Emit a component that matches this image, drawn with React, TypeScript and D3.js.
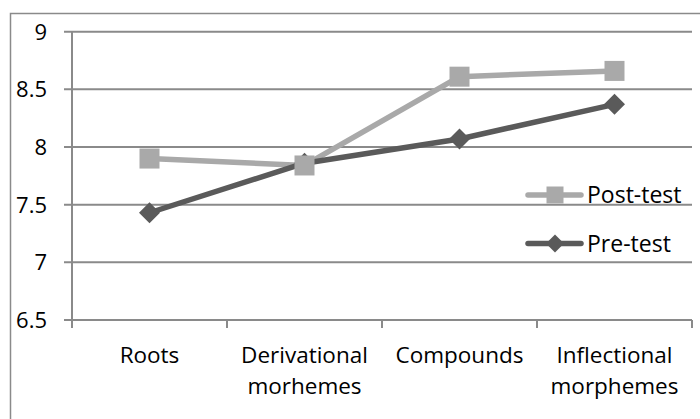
import React from "react";
import * as d3 from "d3";

const categories = ["Roots", "Derivational\nmorhemes", "Compounds", "Inflectional\nmorphemes"];
const postTest = [7.9, 7.84, 8.61, 8.66];
const preTest = [7.43, 7.86, 8.07, 8.37];
const yTicks = [6.5, 7, 7.5, 8, 8.5, 9];
const seriesNames = ["Post-test", "Pre-test"];

const W = 700;
const H = 419;
const FONT = "'Open Sans', sans-serif";
const POST_COLOR = "#a9a9a9";
const PRE_COLOR = "#5a5a5a";
const GRID = "#8a8a8a";

export default function App() {
  const x = d3.scaleBand<string>().domain(categories).range([72, 692]).padding(0);
  const y = d3.scaleLinear().domain([6.5, 9]).range([320, 31.7]);
  const cx = (c: string) => (x(c) as number) + x.bandwidth() / 2;
  const line = d3
    .line<number>()
    .x((_, i) => cx(categories[i]))
    .y((d) => y(d));
  const diamond = (px: number, py: number, r: number) =>
    `M${px},${py - r}L${px + r},${py}L${px},${py + r}L${px - r},${py}Z`;
  const edges = [...categories.map((c) => x(c) as number), 692];

  return (
    <div style={{ position: "absolute", left: 0, top: 0 }}>
      <svg width={W} height={H} style={{ display: "block", background: "#fff" }}>
        <rect x={10.5} y={13.5} width={700} height={420} fill="#fff" stroke={GRID} strokeWidth={1.5} />
        {yTicks.map((t) => (
          <g key={t}>
            <line x1={64} x2={692} y1={y(t)} y2={y(t)} stroke={GRID} strokeWidth={2} />
            <text
              x={47}
              y={y(t) + 8}
              textAnchor="end"
              fontFamily={FONT}
              fontSize={22}
              fill="#000"
            >
              {t}
            </text>
          </g>
        ))}
        <line x1={72} x2={72} y1={y(9)} y2={328} stroke={GRID} strokeWidth={2} />
        {edges.map((e, i) => (
          <line key={i} x1={e} x2={e} y1={y(6.5)} y2={328} stroke={GRID} strokeWidth={2} />
        ))}
        {categories.map((c) => {
          const lines = c.split("\n");
          return (
            <text key={c} textAnchor="middle" fontFamily={FONT} fontSize={22.5} fill="#000">
              {lines.map((l, i) => (
                <tspan key={i} x={cx(c)} y={363 + i * 31}>
                  {l}
                </tspan>
              ))}
            </text>
          );
        })}
        <path d={line(postTest) || ""} fill="none" stroke={POST_COLOR} strokeWidth={5.5} strokeLinejoin="round" strokeLinecap="round" />
        <path d={line(preTest) || ""} fill="none" stroke={PRE_COLOR} strokeWidth={5.5} strokeLinejoin="round" strokeLinecap="round" />
        {preTest.map((v, i) => (
          <path key={"pre" + i} d={diamond(cx(categories[i]), y(v), 10.5)} fill={PRE_COLOR} />
        ))}
        {postTest.map((v, i) => (
          <rect key={"post" + i} x={cx(categories[i]) - 10} y={y(v) - 10} width={20} height={20} fill={POST_COLOR} />
        ))}
        {/* Legend */}
        <g>
          <line x1={528} x2={581} y1={195} y2={195} stroke={POST_COLOR} strokeWidth={5.5} strokeLinecap="round" />
          <rect x={546.5} y={186.5} width={17} height={17} fill={POST_COLOR} />
          <text x={587} y={203} fontFamily={FONT} fontSize={23} fill="#000">
            {seriesNames[0]}
          </text>
          <line x1={528} x2={581} y1={243.5} y2={243.5} stroke={PRE_COLOR} strokeWidth={5.5} strokeLinecap="round" />
          <path d={diamond(555, 243.5, 9)} fill={PRE_COLOR} />
          <text x={587} y={252} fontFamily={FONT} fontSize={23} fill="#000">
            {seriesNames[1]}
          </text>
        </g>
      </svg>
    </div>
  );
}
